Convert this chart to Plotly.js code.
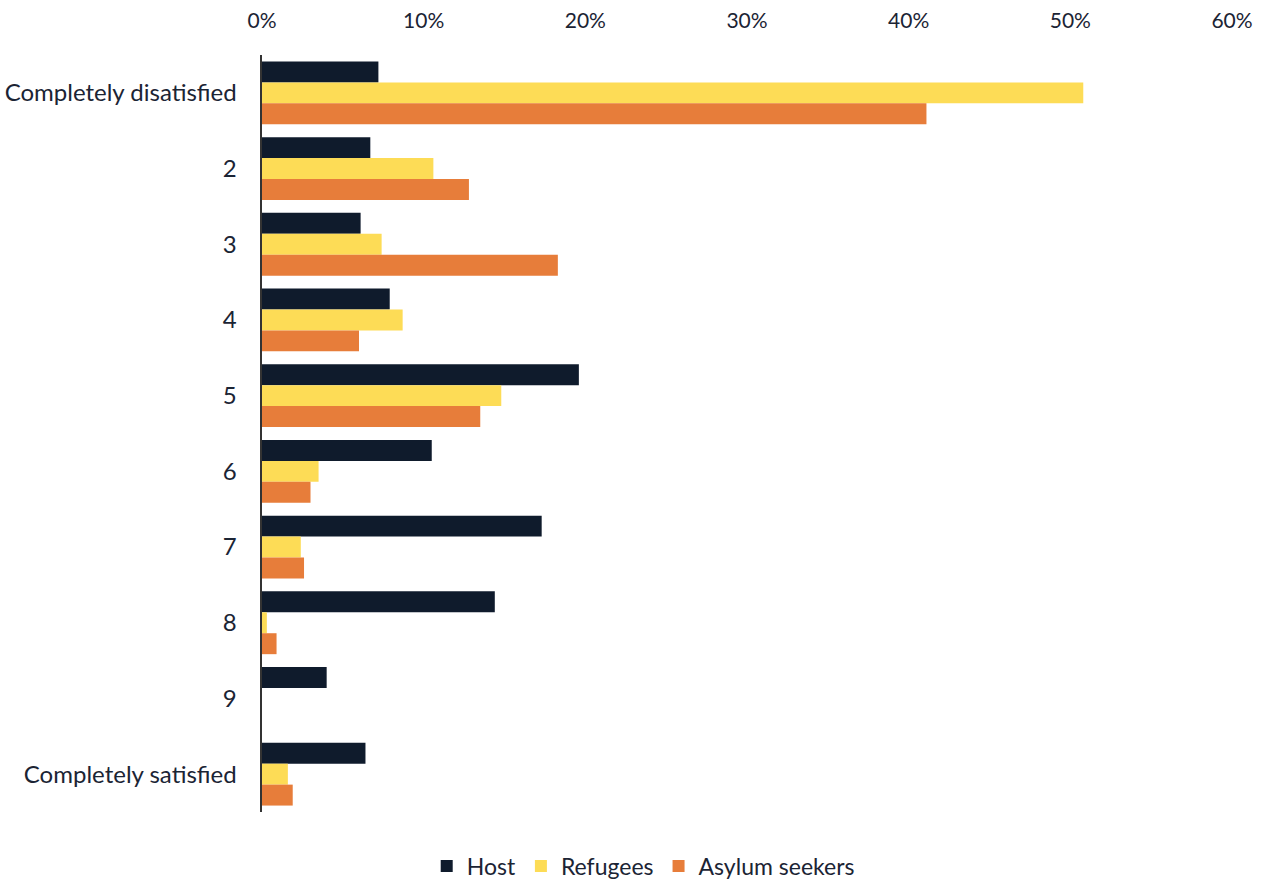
<!DOCTYPE html>
<html>
<head>
<meta charset="utf-8">
<script src="https://cdn.plot.ly/plotly-3.0.1.min.js"></script>
<style>html,body{margin:0;padding:0;background:#fff;}#chart{width:1268px;height:882px;}</style>
</head>
<body>
<div id="chart"></div>
<script>
const categories = ["Completely disatisfied","2","3","4","5","6","7","8","9","Completely satisfied"];
const host = [7.2, 6.7, 6.1, 7.9, 19.6, 10.5, 17.3, 14.4, 4.0, 6.4];
const refugees = [50.8, 10.6, 7.4, 8.7, 14.8, 3.5, 2.4, 0.3, 0, 1.6];
const asylum = [41.1, 12.8, 18.3, 6.0, 13.5, 3.0, 2.6, 0.9, 0, 1.9];
const xTicks = [0, 10, 20, 30, 40, 50, 60];
const xTickLabels = ["0%","10%","20%","30%","40%","50%","60%"];

const font = "Lato, 'Open Sans', sans-serif";
const mk = (name, vals, color) => ({
  type: 'bar', orientation: 'h', name: name,
  y: categories, x: vals,
  marker: {color: color, line: {width: 0}},
  hoverinfo: 'x+name'
});
const data = [
  mk('Host', host, '#0f1b2c'),
  mk('Refugees', refugees, '#fddc56'),
  mk('Asylum seekers', asylum, '#e77d3a')
];
const layout = {
  width: 1268, height: 882,
  margin: {l: 262, r: 36, t: 55, b: 70},
  paper_bgcolor: '#fff', plot_bgcolor: '#fff',
  barmode: 'group', bargap: 0.17, bargroupgap: 0,
  font: {family: font, color: '#1b2434', size: 20},
  showlegend: true,
  legend: {orientation: 'h', x: 0.393, xanchor: 'center', yref: 'container', y: 0.018, yanchor: 'middle',
           font: {size: 23, color: '#1b2434'}, traceorder: 'normal', itemwidth: 30},
  xaxis: {
    side: 'top', range: [0, 60], tickvals: xTicks, ticktext: xTickLabels,
    showgrid: false, zeroline: false, showline: false, ticks: '', ticklabelstandoff: 22,
    tickfont: {size: 21, color: '#1b2434'}, fixedrange: true
  },
  yaxis: {
    type: 'category', autorange: 'reversed', showgrid: false, zeroline: false,
    showline: true, linecolor: '#333', linewidth: 2.5, ticklabeloverflow: 'allow',
    ticks: '', ticklabelstandoff: 18, tickfont: {size: 24, color: '#1b2434'}, fixedrange: true
  }
};
Plotly.newPlot('chart', data, layout, {displayModeBar: false, staticPlot: true});
</script>
</body>
</html>
